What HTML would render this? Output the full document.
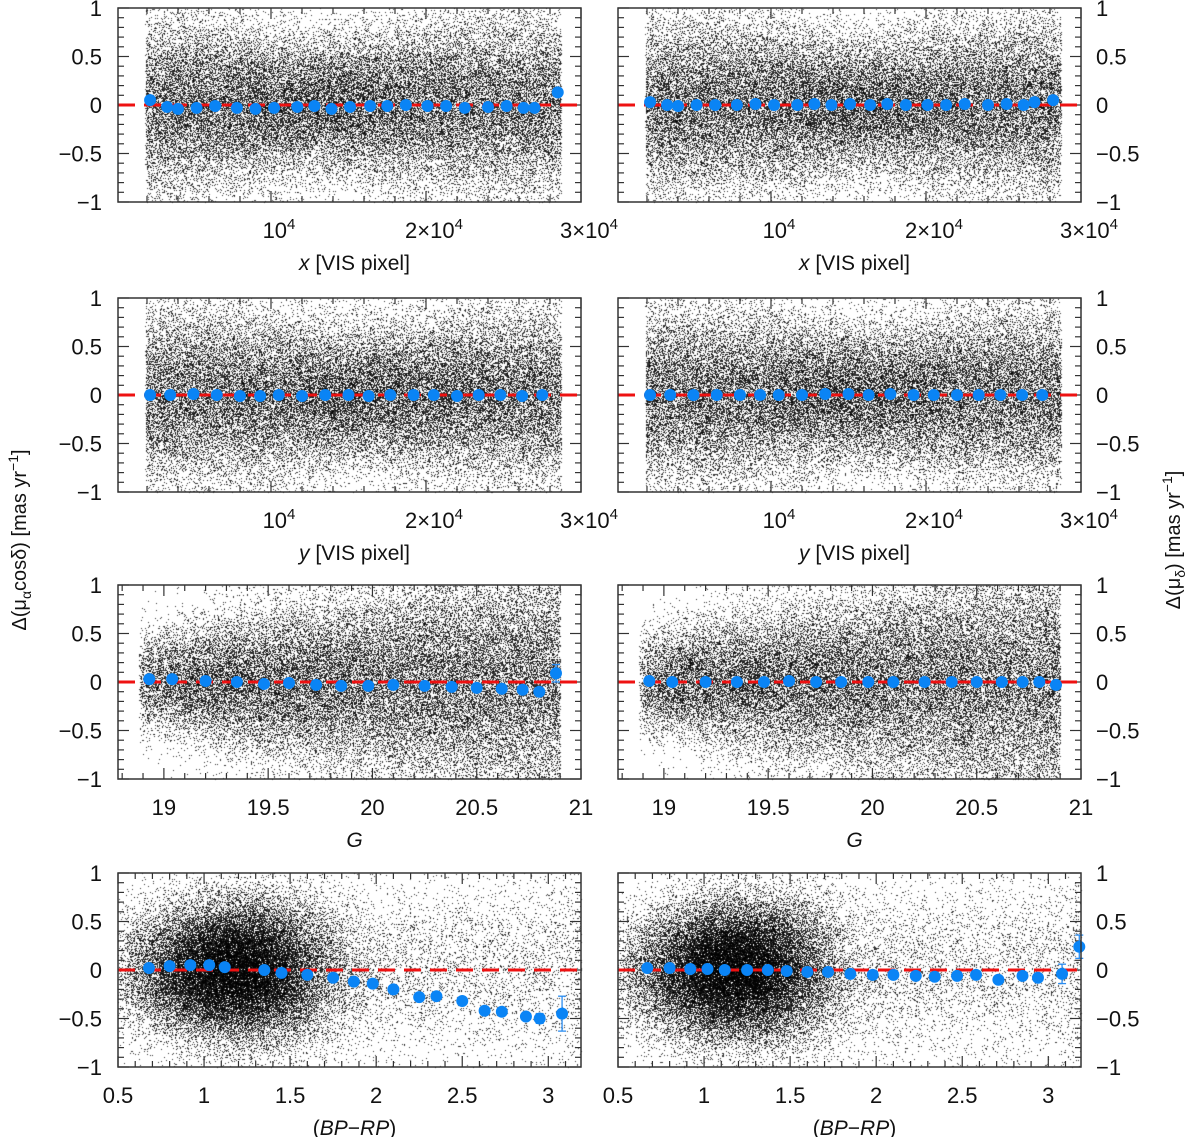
<!DOCTYPE html>
<html><head><meta charset="utf-8">
<style>
html,body{margin:0;padding:0;background:#fff;}
#wrap{position:relative;width:1200px;height:1137px;overflow:hidden;font-family:"Liberation Sans",sans-serif;}
canvas{position:absolute;left:0;top:0;}
svg{position:absolute;left:0;top:0;}
text{font-family:"Liberation Sans","DejaVu Sans",sans-serif;fill:#111;}
</style></head>
<body>
<div id="wrap">
<canvas id="cv" width="1200" height="1137"></canvas>
<svg id="sv" width="1200" height="1137"></svg>
</div>
<script>
// ---- data (binned mean residuals) ----
const r1L_x=[2200,3300,4000,5200,6400,7800,9000,10200,11700,12800,13900,15100,16400,17500,18700,20100,21300,22500,24000,25200,26300,27000,28500];
const r1L_y=[0.05,-0.02,-0.04,-0.03,-0.01,-0.03,-0.04,-0.03,-0.02,-0.01,-0.04,-0.02,-0.01,-0.01,0.0,-0.01,-0.01,-0.03,-0.02,-0.01,-0.03,-0.03,0.13];
const r1L_e=[0.02,0.01,0.01,0.01,0.01,0.01,0.01,0.01,0.01,0.01,0.01,0.01,0.01,0.01,0.01,0.01,0.01,0.01,0.01,0.01,0.01,0.01,0.04];
const r1R_x=[2200,3300,4000,5200,6400,7800,9000,10200,11700,12800,13900,15100,16400,17500,18700,20100,21300,22500,24000,25200,26300,27000,28200];
const r1R_y=[0.03,0.0,-0.01,0.0,0.0,0.0,0.01,0.0,0.0,0.01,0.0,0.01,0.0,0.01,0.0,0.0,0.0,0.01,0.0,0.01,0.0,0.03,0.05];
const r2L_x=[2200,3500,5000,6500,8000,9300,10500,12000,13500,15000,16300,17700,19200,20500,22000,23400,24800,26200,27500];
const r2L_y=[0.0,0.0,0.01,0.0,-0.01,-0.01,0.0,-0.01,0.0,0.0,-0.01,0.0,0.0,0.0,-0.01,0.0,0.0,-0.01,0.0];
const r2R_x=[2200,3500,5000,6500,8000,9300,10500,12000,13500,15000,16300,17700,19200,20500,22000,23400,24800,26200,27500];
const r2R_y=[0.0,0.0,0.0,0.0,0.0,0.0,0.0,0.0,0.01,0.01,0.0,0.01,0.0,0.0,0.0,0.0,0.0,0.0,0.0];
const r3L_x=[18.93,19.04,19.2,19.35,19.48,19.6,19.73,19.85,19.98,20.1,20.25,20.38,20.5,20.62,20.72,20.8,20.88];
const r3L_y=[0.03,0.03,0.01,0.0,-0.02,-0.01,-0.03,-0.04,-0.04,-0.03,-0.04,-0.05,-0.06,-0.07,-0.08,-0.1,0.09];
const r3L_e=[0.01,0.01,0.01,0.01,0.01,0.01,0.01,0.01,0.01,0.01,0.01,0.01,0.01,0.01,0.01,0.02,0.09];
const r3R_x=[18.93,19.04,19.2,19.35,19.48,19.6,19.73,19.85,19.98,20.1,20.25,20.38,20.5,20.62,20.72,20.8,20.88];
const r3R_y=[0.01,0.0,0.0,0.0,0.0,0.01,0.0,0.0,0.0,0.0,0.0,0.0,0.0,0.0,0.0,0.0,-0.03];
const r4L_x=[0.68,0.8,0.92,1.03,1.12,1.35,1.45,1.6,1.75,1.87,1.98,2.1,2.25,2.35,2.5,2.63,2.73,2.87,2.95,3.08];
const r4L_y=[0.02,0.04,0.05,0.05,0.03,0.0,-0.03,-0.05,-0.08,-0.12,-0.14,-0.2,-0.28,-0.27,-0.32,-0.42,-0.43,-0.48,-0.5,-0.45];
const r4L_e=[0.01,0.01,0.01,0.01,0.01,0.01,0.01,0.01,0.01,0.01,0.01,0.01,0.01,0.02,0.02,0.03,0.03,0.04,0.05,0.18];
const r4R_x=[0.67,0.8,0.92,1.02,1.12,1.25,1.37,1.48,1.6,1.72,1.85,1.98,2.1,2.23,2.34,2.47,2.58,2.71,2.85,2.94,3.08,3.18];
const r4R_y=[0.02,0.02,0.01,0.01,0.0,0.0,0.0,-0.01,-0.02,-0.02,-0.04,-0.05,-0.05,-0.06,-0.07,-0.06,-0.05,-0.1,-0.06,-0.08,-0.04,0.24];
const r4R_e=[0.01,0.01,0.01,0.01,0.01,0.01,0.01,0.01,0.01,0.01,0.01,0.01,0.01,0.01,0.02,0.02,0.02,0.03,0.03,0.03,0.1,0.12];

const pixTicks=[10000,20000,30000];
const pixTickLabels=["10","2×10","3×10"];
const gTicks=[19,19.5,20,20.5,21];
const gTickLabels=["19","19.5","20","20.5","21"];
const cTicks=[0.5,1,1.5,2,2.5,3];
const cTickLabels=["0.5","1","1.5","2","2.5","3"];
const yTicks=[1,0.5,0,-0.5,-1];
const yTickLabels=["1","0.5","0","−0.5","−1"];

const NS="http://www.w3.org/2000/svg";
const sv=document.getElementById('sv');
const ctx=document.getElementById('cv').getContext('2d');
function el(tag,attrs,parent){const e=document.createElementNS(NS,tag);for(const k in attrs)e.setAttribute(k,attrs[k]);(parent||sv).appendChild(e);return e;}

const colsX=[118,618], W=463;
const rowsY=[8,298,585,873], H=194;
const xr=[[130,30000],[130,30000],[18.78,21],[0.5,3.19]];

// seeded PRNG for background star cloud (visual density only)
let seed=12345;function rnd(){seed=(seed*1664525+1013904223)%4294967296;return seed/4294967296;}
function gauss(){let u=rnd()||1e-9,v=rnd();return Math.sqrt(-2*Math.log(u))*Math.cos(2*Math.PI*v);}

function cloud(row,col){
  const x0=colsX[col],y0=rowsY[row],a=xr[row][0],b=xr[row][1];
  const sx=v=>x0+(v-a)/(b-a)*W, sy=v=>y0+H/2-v*H/2;
  ctx.fillStyle='rgba(0,0,0,0.8)';
  const N= row===3?42000:40000;
  for(let i=0;i<N;i++){
    let xv,yv;
    if(row<2){xv=1900+rnd()*26800;const c=(row===0&&col===0)?13000:16000;const d=(xv-c)/6000;const s=0.5-0.12*Math.exp(-d*d);yv=gauss()*s;}
    else if(row===2){xv=18.88+Math.pow(rnd(),0.8)*2.02;yv=gauss()*(0.26+0.24*(xv-18.9));}
    else {xv=rnd()<0.8?1.18+gauss()*0.28:0.55+rnd()*2.65;if(xv<0.5)continue;yv=gauss()*(0.35+0.12*Math.max(0,xv-1.2));}
    if(yv>1||yv<-1||xv<a||xv>b)continue;
    ctx.fillRect(Math.round(sx(xv)),Math.round(sy(yv)),1,1);
  }
}

function addSub(parent,txt,dy,size,italic){const t=el('tspan',{},parent);if(dy)t.setAttribute('dy',dy);if(size)t.setAttribute('font-size',size);if(italic)t.setAttribute('font-style','italic');t.textContent=txt;return t;}

function panel(row,col,xs,ys,es,name){
  const x0=colsX[col],y0=rowsY[row],a=xr[row][0],b=xr[row][1];
  const sx=v=>x0+(v-a)/(b-a)*W, sy=v=>y0+H/2-v*H/2;
  const g=el('g',{});
  
  
  for(let k=-10;k<=10;k++){const v=k/10,y=sy(v),L=(k%5===0)?11:6;
    el('line',{x1:x0,y1:y,x2:x0+L,y2:y,stroke:'#333','stroke-width':1.2},g);
    el('line',{x1:x0+W,y1:y,x2:x0+W-L,y2:y,stroke:'#333','stroke-width':1.2},g);}
  let step,ticks;
  if(row<2){step=2000;ticks=pixTicks;} else if(row===2){step=0.1;ticks=gTicks;} else {step=0.1;ticks=cTicks;}
  const n0=Math.ceil(a/step-1e-6);
  for(let n=n0;n*step<=b+1e-6;n++){const v=n*step;const x=sx(v);
    const isMaj=ticks.some(t=>Math.abs(t-v)<step/10);const L=isMaj?11:6;
    el('line',{x1:x,y1:y0+H,x2:x,y2:y0+H-L,stroke:'#333','stroke-width':1.2},g);
    el('line',{x1:x,y1:y0,x2:x,y2:y0+L,stroke:'#333','stroke-width':1.2},g);}
  const zl=el('line',{x1:x0,y1:sy(0),x2:x0+W,y2:sy(0),stroke:'#ee1111','stroke-width':3,'stroke-dasharray':'17 9'},g);
  
  
  for(let i=0;i<xs.length;i++){
    const cx=sx(xs[i]),cy=sy(ys[i]),e=es?es[i]:0.01;
    if(e>0.02){const y1=sy(ys[i]+e),y2=sy(ys[i]-e);
      el('line',{x1:cx,y1:y1,x2:cx,y2:y2,stroke:'#2a8cf0','stroke-width':1.3},g);
      el('line',{x1:cx-4,y1:y1,x2:cx+4,y2:y1,stroke:'#2a8cf0','stroke-width':1.3},g);
      el('line',{x1:cx-4,y1:y2,x2:cx+4,y2:y2,stroke:'#2a8cf0','stroke-width':1.3},g);}
    const c=el('circle',{cx:cx,cy:cy,r:6,fill:'#0a84f5'},g);
    
    
  }
  el('rect',{x:x0,y:y0,width:W,height:H,fill:'none',stroke:'#333','stroke-width':1.5},g);
  for(let i=0;i<yTicks.length;i++){
    const y=sy(yTicks[i])+8;
    if(col===0){const t=el('text',{x:x0-16,y:y,'font-size':22,'text-anchor':'end'},g);t.textContent=yTickLabels[i];}
    else {const t=el('text',{x:x0+W+15,y:y,'font-size':22,'text-anchor':'start'},g);t.textContent=yTickLabels[i];}
  }
  const ly=y0+H+36;
  if(row<2){pixTicks.forEach((v,i)=>{const t=el('text',{x:sx(v)+8,y:ly,'font-size':22,'text-anchor':'middle'},g);
      addSub(t,pixTickLabels[i]);addSub(t,'4',-9,15);});}
  else if(row===2){gTicks.forEach((v,i)=>{const t=el('text',{x:sx(v),y:ly,'font-size':22,'text-anchor':'middle'},g);t.textContent=gTickLabels[i];});}
  else {cTicks.forEach((v,i)=>{const t=el('text',{x:sx(v),y:ly,'font-size':22,'text-anchor':'middle'},g);t.textContent=cTickLabels[i];});}
  const tt=el('text',{x:x0+W/2+5,y:y0+H+68,'font-size':21,'text-anchor':'middle'},g);
  
  
  if(row<2){addSub(tt,row===0?'x':'y',0,0,true);addSub(tt,'  [VIS pixel]');}
  else if(row===2){addSub(tt,'G',0,0,true);}
  else {addSub(tt,'(');addSub(tt,'BP',0,0,true);addSub(tt,'−');addSub(tt,'RP',0,0,true);addSub(tt,')');}
}

for(let r=0;r<4;r++)for(let c=0;c<2;c++)cloud(r,c);
panel(0,0,r1L_x,r1L_y,r1L_e,'panel-x-pmra');
panel(0,1,r1R_x,r1R_y,null,'panel-x-pmdec');
panel(1,0,r2L_x,r2L_y,null,'panel-y-pmra');
panel(1,1,r2R_x,r2R_y,null,'panel-y-pmdec');
panel(2,0,r3L_x,r3L_y,r3L_e,'panel-g-pmra');
panel(2,1,r3R_x,r3R_y,null,'panel-g-pmdec');
panel(3,0,r4L_x,r4L_y,r4L_e,'panel-color-pmra');
panel(3,1,r4R_x,r4R_y,r4R_e,'panel-color-pmdec');

const yl=el('text',{x:0,y:0,'font-size':20,'text-anchor':'middle',transform:'translate(26,540) rotate(-90)'});


addSub(yl,'Δ(μ');addSub(yl,'α',5,14);addSub(yl,'cosδ) [mas yr',-5);addSub(yl,'−1',-8,14);addSub(yl,']',8);
const yr=el('text',{x:0,y:0,'font-size':20,'text-anchor':'middle',transform:'translate(1180,540) rotate(-90)'});


addSub(yr,'Δ(μ');addSub(yr,'δ',5,14);addSub(yr,') [mas yr',-5);addSub(yr,'−1',-8,14);addSub(yr,']',8);
</script>
</body></html>
